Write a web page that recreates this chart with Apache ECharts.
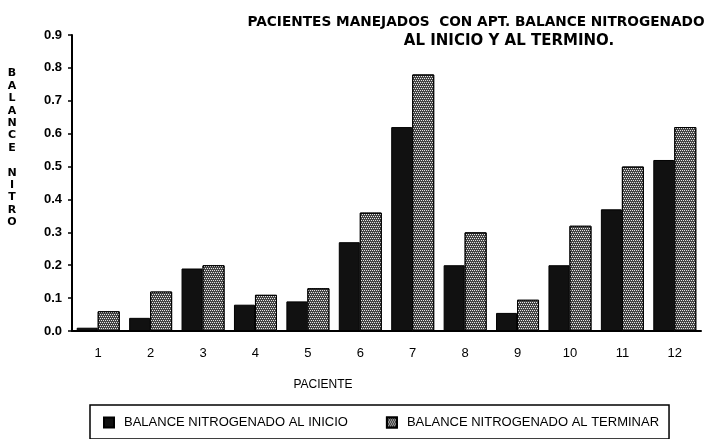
<!DOCTYPE html>
<html><head><meta charset="utf-8">
<script src="https://cdn.jsdelivr.net/npm/echarts@6/dist/echarts.min.js"></script>
<style>html,body{margin:0;padding:0;background:#fff}#c{width:709px;height:439px}</style>
</head><body><div id="c"></div>
<script>
const categories = ['1','2','3','4','5','6','7','8','9','10','11','12'];
const inicio = [0.01,0.04,0.19,0.08,0.09,0.27,0.62,0.20,0.055,0.20,0.37,0.52];
const terminar = [0.06,0.12,0.20,0.11,0.13,0.36,0.78,0.30,0.095,0.32,0.50,0.62];
const seriesNames = ['BALANCE NITROGENADO AL INICIO','BALANCE NITROGENADO AL TERMINAR'];
const titleLines = ['PACIENTES MANEJADOS  CON APT. BALANCE NITROGENADO','AL INICIO Y AL TERMINO.'];
const yName = 'B\nA\nL\nA\nN\nC\nE\n\nN\nI\nT\nR\nO';
const xName = 'PACIENTE';

const chart = echarts.init(document.getElementById('c'), null, {renderer:'canvas'});
const lightDecal = {symbol:'rect', symbolSize:1, color:'#e6e6e6', dashArrayX:[[1,1],[0,1,1,0]], dashArrayY:[1,1], rotation:0};
chart.setOption({
  animation:false,
  backgroundColor:'#fff',
  textStyle:{fontFamily:'Liberation Sans'},
  title:[
    {text:titleLines[0], left:471, top:10, textAlign:'center', textStyle:{fontFamily:'DejaVu Sans', fontWeight:'bold', fontSize:13.7, color:'#000'}},
    {text:titleLines[1], left:504, top:29, textAlign:'center', textStyle:{fontFamily:'DejaVu Sans', fontWeight:'bold', fontSize:15, color:'#000'}}
  ],
  grid:{left:72, right:8, top:35, bottom:108, containLabel:false},
  legend:{
    left:90, top:405, padding:[11,10,10,13], borderColor:'#000', borderWidth:1.5,
    itemWidth:10, itemHeight:10, itemGap:38, icon:'rect',
    textStyle:{fontSize:13, color:'#000', padding:[0,0,0,5]},
    data:seriesNames
  },
  xAxis:{
    type:'category', data:categories,
    axisLine:{lineStyle:{color:'#000', width:2}},
    axisTick:{length:4, lineStyle:{color:'#000', width:1.5}},
    axisLabel:{color:'#000', fontSize:13, margin:16}
  },
  yAxis:{
    type:'value', min:0, max:0.9, interval:0.1,
    axisLine:{show:true, lineStyle:{color:'#000', width:2}},
    axisTick:{show:true, length:4, lineStyle:{color:'#000', width:1.5}},
    splitLine:{show:false},
    axisLabel:{color:'#000', fontSize:13, fontWeight:'bold', margin:10, formatter:v=>v.toFixed(1)}
  },
  graphic:[
    {type:'text', style:{text:xName, x:323, y:385, textAlign:'center', textVerticalAlign:'middle', fontSize:12, fill:'#000', fontFamily:'Liberation Sans'}},
    {type:'text', style:{text:yName, x:12, y:148, textAlign:'center', textVerticalAlign:'middle', fontSize:11, fontWeight:'bold', lineHeight:12.4, fill:'#000', fontFamily:'DejaVu Sans'}}
  ],
  series:[
    {name:seriesNames[0], type:'bar', data:inicio, barWidth:21, barGap:'0%',
     itemStyle:{color:'#111', borderColor:'#000', borderWidth:1}},
    {name:seriesNames[1], type:'bar', data:terminar, barWidth:22, barGap:'0%',
     itemStyle:{color:'#444', borderColor:'#000', borderWidth:1, decal:lightDecal}}
  ]
});
</script></body></html>
